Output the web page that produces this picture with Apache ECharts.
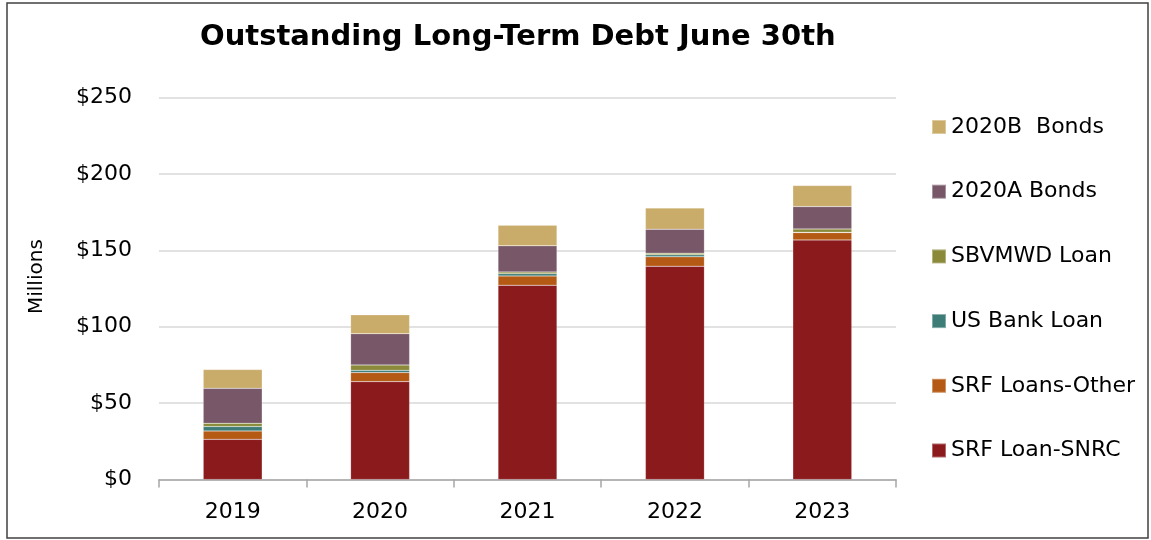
<!DOCTYPE html>
<html><head><meta charset="utf-8">
<script src="https://cdn.jsdelivr.net/npm/echarts@6/dist/echarts.min.js"></script>
<style>html,body{margin:0;padding:0;background:#fff}#c{width:1151px;height:540px}</style>
</head><body><div id="c"></div>
<script>
const categories = ['2019','2020','2021','2022','2023'];
const srfSnrc   = [26.3, 64.1, 127.2, 139.7, 156.9];
const srfOther  = [5.5, 5.9, 6.1, 6.1, 4.8];
const usBank    = [2.9, 1.5, 1.5, 1.3, 0.2];
const sbvmwd    = [2.1, 3.5, 1.1, 1.1, 2.2];
const bonds2020A = [22.9, 20.5, 17.1, 15.7, 14.6];
const bonds2020B = [12.3, 12.3, 13.5, 13.8, 13.8];
const seriesNames = ['SRF Loan-SNRC','SRF Loans-Other','US Bank Loan','SBVMWD Loan','2020A Bonds','2020B  Bonds'];
const seriesColors = ['#8B1A1C','#B55A15','#3E7C78','#8A8A3A','#785868','#C9AC6A'];
const seriesData = [srfSnrc, srfOther, usBank, sbvmwd, bonds2020A, bonds2020B];
const yTicks = {min:0, max:250, interval:50};

const chart = echarts.init(document.getElementById('c'), null, {renderer:'canvas'});
const font = 'DejaVu Sans, Verdana, sans-serif';
chart.setOption({
  backgroundColor:'#fff',
  animation:false,
  title:{text:'Outstanding Long-Term Debt June 30th', left:195, top:18,
    textStyle:{fontFamily:font, fontWeight:'bold', fontSize:29, color:'#000'}},
  grid:{left:159, right:255, top:97.7, bottom:60.5, containLabel:false},
  legend:{orient:'vertical', left:931, top:116, padding:0, itemWidth:14, itemHeight:14, itemGap:42.7,
    data:seriesNames.slice().reverse(), icon:'rect',
    textStyle:{fontFamily:font, fontSize:22, color:'#000', lineHeight:20}},
  xAxis:{type:'category', data:categories,
    axisLine:{lineStyle:{color:'#a6a6a6', width:1.5}},
    axisTick:{show:true, length:8, lineStyle:{color:'#a6a6a6', width:1.5}},
    axisLabel:{fontFamily:font, fontSize:22, color:'#000', margin:22}},
  yAxis:{type:'value', min:yTicks.min, max:yTicks.max, interval:yTicks.interval,
    name:'Millions', nameLocation:'middle', nameGap:112, nameRotate:90,
    nameTextStyle:{fontFamily:font, fontSize:20, color:'#000', padding:[0,0,0,24]},
    axisLine:{show:false}, axisTick:{show:false},
    axisLabel:{fontFamily:font, fontSize:22, color:'#000', margin:27, formatter:'${value}'},
    splitLine:{lineStyle:{color:'#d9d9d9', width:1.5}}},
  series: seriesNames.map((n,i)=>({
    name:n, type:'bar', stack:'debt', data:seriesData[i], barCategoryGap:'60%',
    itemStyle:{color:seriesColors[i], borderColor:'rgba(255,255,255,0.35)', borderWidth:0.5}
  })),
  graphic:[{type:'rect', shape:{x:7, y:3, width:1141, height:535}, silent:true,
    style:{fill:'none', stroke:'#404040', lineWidth:1.5}}]
});
</script></body></html>
